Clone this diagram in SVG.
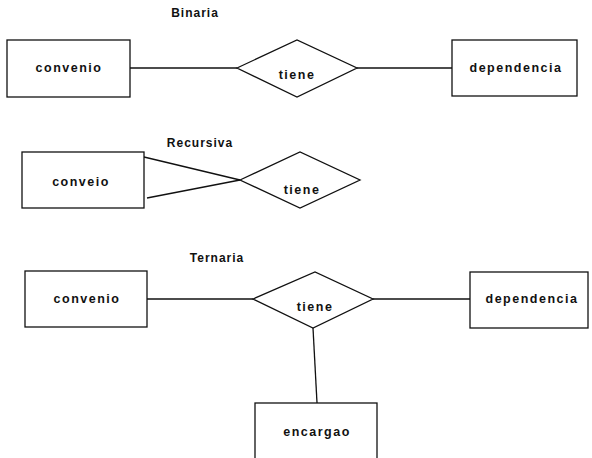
<svg xmlns="http://www.w3.org/2000/svg" width="592" height="458" viewBox="0 0 592 458">
<style>
rect,polygon{fill:#fff;stroke:#111;stroke-width:1.3}
line{stroke:#111;stroke-width:1.3}
text{font-family:"Liberation Sans",Arial,sans-serif;font-weight:bold;font-size:12.5px;letter-spacing:1.5px;fill:#111;text-anchor:middle}
.t{font-size:12px;letter-spacing:1px}
</style>
<rect width="592" height="458" style="fill:#fff;stroke:none"/>
<g id="titles">
<text class="t" x="195" y="17">Binaria</text>
<text class="t" x="200" y="147">Recursiva</text>
<text class="t" x="217" y="262">Ternaria</text>
</g>
<g id="connectors">
<line x1="130" y1="68" x2="237" y2="68"/>
<line x1="357" y1="68" x2="452" y2="68"/>
<line x1="144" y1="157" x2="240" y2="180"/>
<line x1="147" y1="198" x2="240" y2="180"/>
<line x1="147" y1="299" x2="253" y2="299"/>
<line x1="373" y1="299" x2="470" y2="299"/>
<line x1="313" y1="328" x2="317" y2="403"/>
</g>
<g id="b-convenio"><rect x="7" y="40" width="123" height="57"/><text x="69" y="72">convenio</text></g>
<g id="b-tiene"><polygon points="237,68 297,40 357,68 297,97"/><text x="297" y="79">tiene</text></g>
<g id="b-dependencia"><rect x="452" y="40" width="125" height="56"/><text x="516" y="72">dependencia</text></g>
<g id="r-conveio"><rect x="22" y="152" width="122" height="56"/><text x="81" y="186">conveio</text></g>
<g id="r-tiene"><polygon points="240,180 300,152 360,180 300,208"/><text x="302" y="194">tiene</text></g>
<g id="t-convenio"><rect x="25" y="271" width="122" height="56"/><text x="87" y="303">convenio</text></g>
<g id="t-tiene"><polygon points="253,299 315,272 373,299 313,328"/><text x="315" y="311">tiene</text></g>
<g id="t-dependencia"><rect x="470" y="272" width="118" height="56"/><text x="532" y="303">dependencia</text></g>
<g id="t-encargao"><rect x="255" y="403" width="122" height="56"/><text x="317" y="436">encargao</text></g>
</svg>
